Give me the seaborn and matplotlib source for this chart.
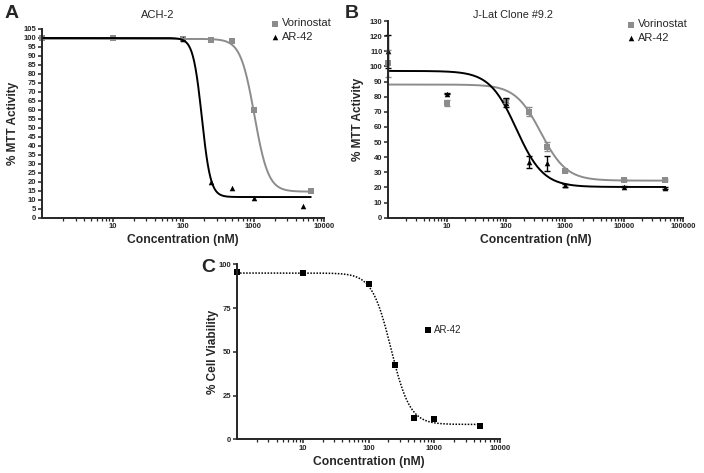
import numpy as np
import pandas as pd
import matplotlib
matplotlib.use("Agg")
import matplotlib.pyplot as plt
import seaborn as sns
from matplotlib.ticker import LogLocator, NullFormatter, FixedLocator, FixedFormatter

# Panel A - ACH-2
a_conc_vor = [1, 10, 100, 250, 500, 1000, 6500]
a_mtt_vor = [100, 99.8, 99.3, 99, 98.5, 60, 15]
a_conc_ar = [100, 250, 500, 1000, 5000]
a_mtt_ar = [99.5, 19.6, 16.5, 11, 6.7]
# fit params: top, bottom, ic50, hill
a_fit_vor = [99.5, 14.5, 1030, 4.4]
a_fit_ar = [100, 11.5, 185, 7.0]

# Panel B - J-Lat Clone #9.2
b_conc = [1, 10, 100, 250, 500, 1000, 10000, 50000]
b_mtt_vor = [102, 75.5, 77, 70, 47, 31, 25, 25]
b_err_vor = [9, 2, 1.5, 3, 3, 1, 0.5, 0.5]
b_mtt_ar = [110, 82, 76, 37, 36, 21.5, 20.5, 19.5]
b_err_ar = [11, 0.5, 3, 4, 5, 1, 0.5, 0.5]
b_fit_vor = [88, 24.5, 390, 2.0]
b_fit_ar = [97, 20.3, 150, 1.9]

# Panel C - cell viability
c_conc = [1, 10, 100, 250, 500, 1000, 5000]
c_viab = [95.4, 95.2, 88.5, 42.5, 12.4, 11.8, 7.8]
c_fit = [95, 8.5, 220, 3.0]

GRAY = "#8c8c8c"


def fit_curve(params, xmax):
    top, bottom, ic50, hill = params
    x = np.logspace(0, np.log10(xmax), 400)
    y = bottom + (top - bottom) / (1 + (x / ic50) ** hill)
    return pd.DataFrame({"x": x, "y": y})


def style_axis(ax, xmax, ymax, yticks, xlabels):
    ax.set_xscale("log")
    ax.set_xlim(1, xmax)
    ax.set_ylim(0, ymax)
    sns.despine(ax=ax)
    for s in ["left", "bottom"]:
        ax.spines[s].set_linewidth(1.4)
    ax.xaxis.set_major_locator(FixedLocator(xlabels))
    ax.xaxis.set_major_formatter(FixedFormatter([str(v) for v in xlabels]))
    ax.xaxis.set_minor_locator(LogLocator(base=10, subs=np.arange(2, 10), numticks=20))
    ax.xaxis.set_minor_formatter(NullFormatter())
    ax.set_yticks(yticks)
    ax.tick_params(axis="both", which="major", labelsize=5.5, length=3, width=1.1, pad=1)
    ax.tick_params(axis="x", which="minor", length=2.5, width=0.9)
    for lab in ax.get_xticklabels() + ax.get_yticklabels():
        lab.set_fontweight("bold")
    ax.set_xlabel("Concentration (nM)", fontsize=8.7, fontweight="bold", labelpad=3)


sns.set_style("ticks")
plt.rcParams["font.family"] = ["Liberation Sans", "DejaVu Sans"]

fig = plt.figure(figsize=(7.04, 4.73), dpi=100)
W, H = 704.0, 473.0
axA = fig.add_axes([42 / W, 1 - 217.7 / H, 282 / W, (217.7 - 29) / H])
axB = fig.add_axes([388 / W, 1 - 217.7 / H, 295 / W, (217.7 - 21) / H])
axC = fig.add_axes([237 / W, 1 - 439.3 / H, 263 / W, (439.3 - 264.3) / H])

# ---- A ----
sns.lineplot(data=fit_curve(a_fit_vor, 6500), x="x", y="y", ax=axA, color=GRAY, lw=1.4, estimator=None, sort=False)
sns.lineplot(data=fit_curve(a_fit_ar, 6500), x="x", y="y", ax=axA, color="black", lw=1.4, estimator=None, sort=False)
sns.scatterplot(x=a_conc_vor, y=a_mtt_vor, ax=axA, marker="s", color=GRAY, s=16, linewidth=0, clip_on=False, label="Vorinostat")
sns.scatterplot(x=a_conc_ar, y=a_mtt_ar, ax=axA, marker="^", color="black", s=16, linewidth=0, clip_on=False, label="AR-42")
style_axis(axA, 10000, 105, np.arange(0, 106, 5), [10, 100, 1000, 10000])
axA.set_ylabel("% MTT Activity", fontsize=8.5, fontweight="bold")
axA.yaxis.set_label_coords(-0.082, 0.5)
axA.legend(loc="upper left", bbox_to_anchor=(265 / W, 1 - 14 / H), bbox_transform=fig.transFigure,
           frameon=False, fontsize=8, handletextpad=0.1, borderaxespad=0, labelspacing=0.3, handlelength=1)

# ---- B ----
sns.lineplot(data=fit_curve(b_fit_vor, 50000), x="x", y="y", ax=axB, color=GRAY, lw=1.4, estimator=None, sort=False)
sns.lineplot(data=fit_curve(b_fit_ar, 50000), x="x", y="y", ax=axB, color="black", lw=1.4, estimator=None, sort=False)
axB.errorbar(b_conc, b_mtt_vor, yerr=b_err_vor, fmt="none", ecolor=GRAY, elinewidth=1, capsize=2.5, capthick=1, clip_on=False)
axB.errorbar(b_conc, b_mtt_ar, yerr=b_err_ar, fmt="none", ecolor="black", elinewidth=1, capsize=2.5, capthick=1, clip_on=False)
sns.scatterplot(x=b_conc, y=b_mtt_vor, ax=axB, marker="s", color=GRAY, s=16, linewidth=0, clip_on=False, label="Vorinostat")
sns.scatterplot(x=b_conc, y=b_mtt_ar, ax=axB, marker="^", color="black", s=16, linewidth=0, clip_on=False, label="AR-42")
style_axis(axB, 100000, 130, np.arange(0, 131, 10), [10, 100, 1000, 10000, 100000])
axB.set_ylabel("% MTT Activity", fontsize=8.5, fontweight="bold")
axB.yaxis.set_label_coords(-0.081, 0.5)
axB.legend(loc="upper left", bbox_to_anchor=(621 / W, 1 - 15 / H), bbox_transform=fig.transFigure,
           frameon=False, fontsize=8, handletextpad=0.1, borderaxespad=0, labelspacing=0.3, handlelength=1)

# ---- C ----
sns.lineplot(data=fit_curve(c_fit, 5000), x="x", y="y", ax=axC, color="black", lw=1.1, estimator=None, sort=False,
             linestyle=(0, (1, 1)))
sns.scatterplot(x=c_conc, y=c_viab, ax=axC, marker="s", color="black", s=16, linewidth=0, clip_on=False, label="AR-42")
style_axis(axC, 10000, 100, [0, 25, 50, 75, 100], [10, 100, 1000, 10000])
axC.set_ylabel("% Cell Viability", fontsize=8.5, fontweight="bold")
axC.yaxis.set_label_coords(-0.068, 0.5)
axC.legend(loc="upper left", bbox_to_anchor=(419 / W, 1 - 321 / H), bbox_transform=fig.transFigure,
           frameon=False, fontsize=7, handletextpad=0.1, borderaxespad=0, handlelength=1)

# titles and panel letters
fig.text(158 / W, 1 - 15 / H, "ACH-2", ha="center", va="center", fontsize=8)
fig.text(513 / W, 1 - 15 / H, "J-Lat Clone #9.2", ha="center", va="center", fontsize=7.8)
fig.text(12 / W, 1 - 13 / H, "A", ha="center", va="center", fontsize=14, fontweight="bold")
fig.text(352 / W, 1 - 14 / H, "B", ha="center", va="center", fontsize=14, fontweight="bold")
fig.text(208 / W, 1 - 268 / H, "C", ha="center", va="center", fontsize=14, fontweight="bold")

fig.savefig("out.png", dpi=100)
